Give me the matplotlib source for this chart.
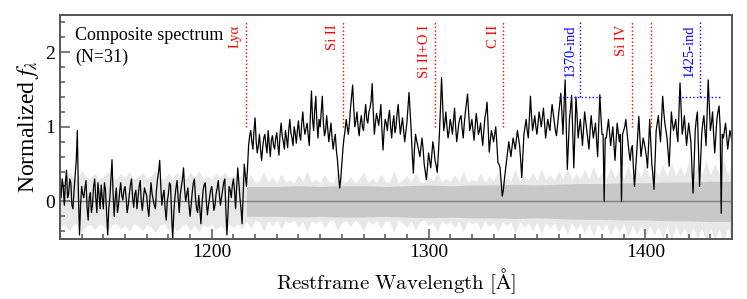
import matplotlib.pyplot as plt
import numpy as np

# composite spectrum: values at whole Angstroms (1130..1440)
flux_int = [
    0.15, 0.30, -0.05, 0.42, 0.10, 0.25, -0.10, 0.35, 0.95, -0.45,
    0.20, 0.05, 0.28, -0.25, 0.12, -0.05, 0.30, -0.15, 0.10, 0.22,
    -0.10, 0.15, -0.45, 0.05, 0.56, -0.20, 0.18, -0.05, 0.25, 0.02,
    0.20, -0.15, 0.10, 0.30, -0.08, 0.15, 0.05, 0.28, -0.12, 0.18,
    0.08, -0.20, 0.25, 0.02, -0.10, 0.30, 0.55, -0.05, 0.15, -0.25,
    0.10, 0.22, -0.50, 0.05, 0.28, -0.15, 0.20, 0.45, 0.00, 0.18,
    -0.20, 0.12, 0.30, -0.10, 0.08, -0.30, 0.15, 0.25, -0.18, 0.05,
    0.20, -0.12, 0.10, 0.28, -0.05, 0.15, 0.30, -0.45, 0.20, 0.05,
    0.30, -0.10, 0.45, 0.05, -0.30, 0.50, 0.20, 0.75, 0.95, 0.70,
    1.12, 0.65, 0.90, 0.55, 0.85, 0.75, 0.95, 0.60, 0.88, 0.70,
    0.92, 0.62, 1.05, 0.80, 0.95, 0.72, 1.10, 0.85, 1.00, 0.78,
    1.08, 0.82, 1.20, 0.90, 1.05, 0.75, 1.48, 0.95, 1.41, 0.85,
    1.00, 1.41, 0.88, 1.15, 0.80, 1.05, 0.70, 0.90, 0.55, 0.18,
    0.50, 0.85, 1.10, 0.90, 1.25, 1.56, 1.00, 1.20, 0.88, 1.15,
    0.95, 1.30, 1.05, 1.25, 1.58, 0.90, 1.18, 1.02, 1.30, 0.69,
    1.10, 0.95, 1.22, 0.85, 1.15, 1.00, 1.30, 0.90, 1.12, 0.80,
    1.05, 1.46, 0.95, 0.38, 0.90, 0.75, 0.60, 0.85, 0.50, 0.29,
    0.65, 0.45, 0.80, 0.55, 0.39, 0.90, 1.66, 0.95, 1.20, 0.85,
    1.10, 0.90, 1.25, 0.80, 1.05, 1.15, 0.85, 1.20, 1.44, 0.95,
    1.10, 0.82, 1.18, 0.90, 1.05, 0.75, 1.12, 1.33, 0.66, 0.95,
    0.80, 1.00, 0.52, 0.45, 0.07, 0.30, 0.55, 0.80, 0.60, 0.85,
    0.70, 0.95, 0.75, 0.32, 0.90, 1.10, 0.85, 1.41, 0.95, 1.15,
    0.90, 1.20, 1.00, 1.25, 0.85, 1.10, 0.95, 1.30, 1.05, 0.88,
    1.15, 1.45, 0.90, 1.63, 0.43, 1.10, 1.42, 0.45, 1.40, 0.85,
    1.10, 0.75, 1.20, 0.95, 0.70, 1.15, 0.85, 1.05, 0.60, 1.43,
    0.90, 0.00, 0.85, 1.10, 0.75, 1.00, 0.55, 1.05, 0.80, 0.00,
    0.95, 1.10, 0.80, 0.55, 0.75, 0.20, 0.65, 1.14, 0.60, 0.85,
    0.70, 0.45, 1.10, 0.50, 0.16, 0.95, 1.15, 0.80, 1.41, 1.05,
    0.85, 0.47, 1.20, 0.95, 1.10, 0.80, 1.59, 0.90, 1.15, 0.75,
    1.05, 0.80, 0.11, 0.95, 1.20, 0.20, 0.90, 1.15, 0.75, 1.63,
    0.95, 1.20, 0.65, 1.10, 1.28, -0.16, 0.85, 1.05, 0.70, 0.95,
    0.80,
]
# ... and at the half Angstroms in between (1130.5..1439.5)
flux_half = [
    0.05, 0.20, 0.25, 0.05, 0.30, -0.05, 0.15, 0.55, 0.10, -0.05,
    0.10, 0.18, -0.08, 0.05, -0.15, 0.20, 0.05, 0.25, -0.10, 0.05,
    0.25, -0.15, -0.10, 0.30, 0.10, 0.05, -0.15, 0.12, 0.08, 0.15,
    0.05, -0.05, 0.22, 0.05, 0.10, -0.10, 0.20, 0.00, 0.05, 0.12,
    -0.10, 0.05, 0.10, -0.05, 0.15, 0.40, 0.20, 0.08, -0.10, 0.00,
    0.25, -0.20, -0.15, 0.18, 0.05, 0.10, 0.30, 0.15, 0.10, -0.05,
    -0.05, 0.25, 0.05, -0.15, -0.10, -0.05, 0.22, 0.00, -0.05, 0.15,
    0.05, -0.05, 0.18, 0.10, 0.05, 0.25, -0.10, -0.15, 0.15, 0.22,
    0.15, 0.20, 0.25, -0.10, 0.10, 0.35, 0.45, 0.88, 0.80, 0.95,
    0.80, 0.75, 0.70, 0.72, 0.90, 0.65, 0.78, 0.82, 0.75, 0.85,
    0.75, 0.90, 0.88, 0.70, 0.85, 0.95, 0.92, 0.75, 0.92, 0.95,
    0.90, 1.05, 1.00, 0.98, 0.88, 1.15, 1.10, 1.22, 1.05, 1.10,
    1.20, 1.05, 0.95, 0.98, 0.92, 0.85, 0.82, 0.68, 0.35, 0.30,
    0.70, 0.95, 1.00, 1.05, 1.40, 1.25, 1.08, 1.00, 1.05, 1.00,
    1.15, 1.10, 1.20, 1.35, 1.20, 1.05, 1.10, 1.15, 0.95, 0.95,
    1.05, 1.12, 1.00, 1.05, 0.92, 1.18, 1.08, 1.02, 0.95, 0.92,
    1.25, 1.20, 0.62, 0.70, 0.82, 0.68, 0.72, 0.70, 0.40, 0.45,
    0.55, 0.62, 0.70, 0.48, 0.62, 1.25, 1.30, 1.05, 1.00, 0.95,
    1.02, 1.08, 1.00, 0.92, 1.12, 0.98, 1.05, 1.32, 1.20, 1.02,
    0.95, 1.00, 1.05, 0.95, 0.88, 0.95, 1.20, 1.00, 0.82, 0.88,
    0.90, 0.78, 0.50, 0.25, 0.15, 0.42, 0.68, 0.70, 0.72, 0.78,
    0.82, 0.85, 0.55, 0.60, 1.00, 0.95, 1.10, 1.15, 1.05, 1.00,
    1.05, 1.10, 1.12, 1.05, 0.98, 1.02, 1.15, 1.18, 0.95, 1.02,
    1.30, 1.20, 1.25, 1.05, 0.75, 1.25, 0.95, 0.90, 1.15, 0.98,
    0.92, 0.98, 1.08, 0.82, 0.95, 1.00, 0.95, 0.82, 1.00, 1.15,
    0.90, 0.85, 0.98, 0.92, 0.88, 0.78, 0.80, 0.92, 0.90, 0.90,
    1.00, 0.95, 0.65, 0.70, 0.45, 0.42, 0.90, 0.85, 0.72, 0.78,
    0.60, 0.75, 0.80, 0.35, 0.55, 1.05, 0.95, 1.10, 1.20, 0.95,
    0.65, 0.85, 1.05, 1.02, 0.92, 1.20, 1.25, 1.00, 0.95, 0.90,
    0.92, 0.45, 0.50, 1.10, 0.70, 0.55, 1.05, 0.95, 1.20, 1.30,
    1.05, 0.90, 0.88, 1.20, 1.00, 0.90, 0.95, 0.88, 0.82, 0.88,
]

# error spectrum: spiky outer envelope (every 2 A) and inner core (redward of Lya)
err_outer = [
    0.34, 0.30, 0.40, 0.32, 0.30, 0.42, 0.33, 0.31, 0.38, 0.30,
    0.33, 0.41, 0.31, 0.30, 0.37, 0.32, 0.40, 0.30, 0.33, 0.39,
    0.31, 0.34, 0.42, 0.32, 0.30, 0.38, 0.31, 0.40, 0.33, 0.30,
    0.39, 0.32, 0.41, 0.31, 0.34, 0.30, 0.38, 0.32, 0.40, 0.31,
    0.35, 0.30, 0.37,
    0.26, 0.36, 0.25, 0.28, 0.40, 0.26, 0.33, 0.25,
    0.37, 0.26, 0.29, 0.25, 0.35, 0.27, 0.41, 0.26, 0.30, 0.25,
    0.36, 0.27, 0.25, 0.39, 0.28, 0.26, 0.34, 0.25, 0.30, 0.40,
    0.26, 0.31, 0.25, 0.37, 0.27, 0.26, 0.42, 0.25, 0.29, 0.35,
    0.26, 0.38, 0.27, 0.25, 0.33, 0.28, 0.40, 0.26, 0.31, 0.26,
    0.36, 0.27, 0.41, 0.26, 0.30, 0.27, 0.38, 0.26, 0.34, 0.28,
    0.40, 0.27, 0.32, 0.28, 0.43, 0.27, 0.35, 0.29, 0.39, 0.28,
    0.44, 0.29, 0.36, 0.28, 0.41, 0.30, 0.45, 0.29, 0.38, 0.30,
    0.43, 0.30, 0.47, 0.31, 0.39, 0.30, 0.46, 0.32, 0.42, 0.31,
    0.48, 0.32, 0.44, 0.33, 0.50, 0.32, 0.45, 0.34, 0.49, 0.33,
    0.52, 0.34, 0.47, 0.35, 0.54, 0.34, 0.50, 0.36, 0.55, 0.35,
    0.51, 0.37, 0.56, 0.36, 0.52,
]
core_wave = [1216, 1220, 1230, 1240, 1250, 1260, 1270, 1280, 1290, 1300, 1310, 1320,
             1330, 1340, 1350, 1360, 1370, 1380, 1390, 1400, 1410, 1420, 1430, 1440]
core_err = [0.20, 0.20, 0.20, 0.21, 0.20, 0.21, 0.21, 0.20, 0.21, 0.22, 0.21, 0.22,
            0.22, 0.23, 0.22, 0.23, 0.24, 0.24, 0.25, 0.25, 0.26, 0.26, 0.27, 0.27]

# line identifications
red_lines = [1215.67, 1260.42, 1303.0, 1334.53, 1393.76, 1402.77]
red_labels = ["Ly\u03b1", "Si II", "Si II+O I", "C II", "Si IV", ""]
ind_lines = [1370, 1425]
ind_labels = ["1370-ind", "1425-ind"]
ind_ranges = [(1360, 1380), (1415, 1435)]

# merge the whole and half Angstrom samples into one spectrum
wave = np.concatenate([np.arange(1130, 1441, 1.0), np.arange(1130.5, 1440, 1.0)])
flux = np.concatenate([flux_int, flux_half])
order = np.argsort(wave)
wave, flux = wave[order], flux[order]
err_wave = np.arange(1130, 1441, 2)

plt.rcParams["font.family"] = ["Liberation Serif", "DejaVu Serif"]
frame = "#555555"

fig = plt.figure(figsize=(7.47, 2.99), dpi=100)
ax = fig.add_axes([0.0803, 0.2017, 0.8997, 0.7483])

ax.fill_between(err_wave, -np.array(err_outer), err_outer, color="#e8e8e8", lw=0)
ax.fill_between(core_wave, -np.array(core_err), core_err, color="#c8c8c8", lw=0)
ax.axhline(0, color="#808080", lw=1.0)
ax.plot(wave, flux, color="black", lw=0.9)

for lam, lab in zip(red_lines, red_labels):
    ax.plot([lam, lam], [1.0, 2.4], color="red", ls=":", lw=1.0)
    if lab:
        ax.text(lam - 1.8, 2.37, lab, color="red", rotation=90, ha="right", va="top",
                fontsize=10.5)

for lam, lab, (lo, hi) in zip(ind_lines, ind_labels, ind_ranges):
    ax.plot([lam, lam], [1.4, 2.4], color="blue", ls=":", lw=1.0)
    ax.plot([lo, hi], [1.4, 1.4], color="blue", ls=":", lw=1.0)
    ax.text(lam - 1.8, 2.37, lab, color="blue", rotation=90, ha="right", va="top",
            fontsize=10.5)

ax.text(0.022, 0.945, "Composite spectrum\n(N=31)", transform=ax.transAxes,
        ha="left", va="top", fontsize=13, linespacing=1.3)

ax.set_xlim(1130, 1440)
ax.set_ylim(-0.5, 2.5)
ax.set_xticks([1200, 1300, 1400])
ax.set_xticks(np.arange(1130, 1441, 10), minor=True)
ax.set_yticks([0, 1, 2])
ax.set_yticks(np.arange(-0.4, 2.5, 0.2), minor=True)
ax.tick_params(which="both", direction="in", colors=frame, labelcolor="black",
               labelsize=14, width=1.1)
ax.tick_params(which="major", length=7)
ax.tick_params(which="minor", length=3.5)
for s in ax.spines.values():
    s.set_color(frame)
    s.set_linewidth(1.4)

ax.set_xlabel(r"$\mathrm{Restframe\ Wavelength\ [\AA]}$", fontsize=15,
              math_fontfamily="cm", labelpad=4)
ax.set_ylabel(r"Normalized $f_\lambda$", fontsize=17, math_fontfamily="stix",
              labelpad=3)

plt.savefig("out.png", dpi=100)
